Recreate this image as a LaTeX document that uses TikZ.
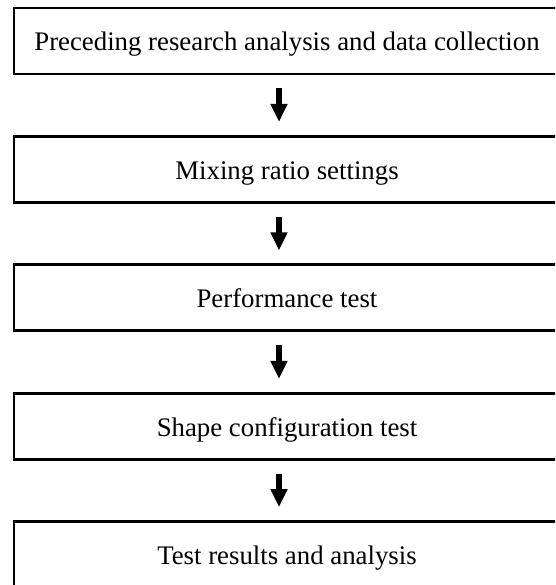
\documentclass[tikz,border=0pt]{standalone}
\usepackage{fontspec}
\setmainfont{Liberation Serif}
\usetikzlibrary{arrows.meta}
\tikzset{
    stepbox/.style={draw=black, line width=2.8pt, fill=white, minimum width=546pt, minimum height=66pt, inner sep=0pt, text height=20pt, text depth=0pt, font=\fontsize{26.8}{30}\selectfont},
    flowarrow/.style={-{Triangle[width=16pt, length=18pt]}, line width=5.5pt, black, shorten <=13pt, shorten >=13pt}
}
\begin{document}
\begin{tikzpicture}[x=1pt, y=-1pt]

        % --- page frame (boxes run past the right and bottom edges) ---
        \useasboundingbox (0,0) rectangle (555,585);
        \clip (0,0) rectangle (555,585);

        \def\boxx{287}

        % ================= BOXES =================
        \node[stepbox] (prec) at (\boxx, 41.0) {Preceding research analysis and data collection};
        \node[stepbox] (mix)  at (\boxx, 169.4) {Mixing ratio settings};
        \node[stepbox] (perf) at (\boxx, 297.8) {Performance test};
        \node[stepbox] (shape) at (\boxx, 426.2) {Shape configuration test};
        \node[stepbox] (res)  at (\boxx, 554.6) {Test results and analysis};

        % ================= ARROWS =================
        \foreach \a/\b in {prec/mix, mix/perf, perf/shape, shape/res}
            \draw[flowarrow] ([xshift=-8pt]\a.south) -- ([xshift=-8pt]\b.north);

\end{tikzpicture}
\end{document}
